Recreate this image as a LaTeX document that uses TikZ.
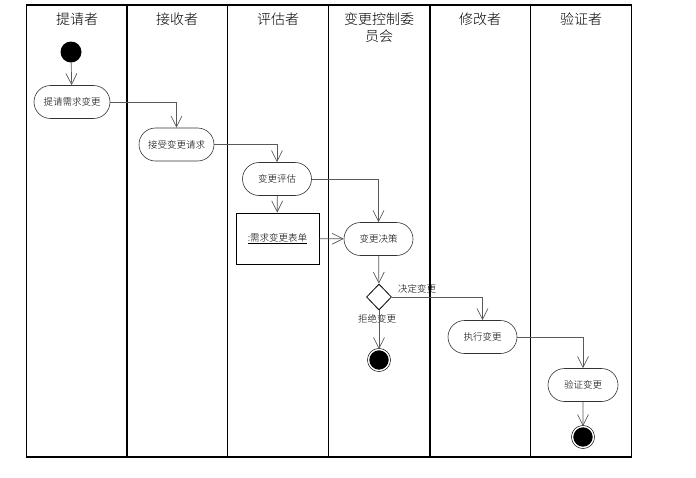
\documentclass[tikz,border=0pt]{standalone}
\usepackage{fontspec}
\newfontfamily\cjk{Noto Sans CJK SC}[UprightFont={* Light}]
\usetikzlibrary{shapes.geometric,shapes.misc,arrows.meta}
\begin{document}
\begin{tikzpicture}[x=1pt,y=-1pt,
  lane/.style={draw=black,line width=1.1pt},
  title/.style={font=\cjk\fontsize{14}{17}\selectfont,align=center,inner sep=0pt},
  act/.style={rounded rectangle,draw=black!80,line width=0.6pt,font=\cjk\fontsize{9.5}{11}\selectfont,minimum height=33pt,inner sep=0pt},
  obj/.style={rectangle,draw=black,line width=0.9pt,font=\cjk\fontsize{9.5}{11}\selectfont,minimum width=83pt,minimum height=51pt,inner sep=0pt},
  conn/.style={draw=black!65,line width=0.7pt,-{Straight Barb[length=11pt,width=11pt,line width=0.7pt]}},
  lbl/.style={font=\cjk\fontsize{9.5}{11}\selectfont,inner sep=0pt},
  startnode/.style={circle,fill=black,minimum size=21pt,inner sep=0pt},
  endnode/.style={circle,fill=black,draw=black,line width=0.6pt,double=white,double distance=1.4pt,minimum size=21pt,inner sep=0pt},
  decision/.style={diamond,draw=black,line width=0.8pt,minimum width=25pt,minimum height=26pt,inner sep=0pt}
]
\useasboundingbox (0,0) rectangle (696,477);
\fill[white] (0,0) rectangle (696,477);
% swimlanes
\draw[lane] (26.7,5) rectangle (631.7,457);
\foreach \xx in {127,227.5,328.3,430,530.7}{\draw[lane] (\xx,5) -- (\xx,457);}
\node[title] (t1) at (77,19) {提请者};
\node[title] (t2) at (177,19) {接收者};
\node[title] (t3) at (278,19) {评估者};
\node[title] (t4) at (379,28) {变更控制委\\员会};
\node[title] (t5) at (480,19) {修改者};
\node[title] (t6) at (581,19) {验证者};
% nodes
\node[startnode] (s) at (71,52) {};
\node[act,minimum width=76pt] (a1) at (72,102) {提请需求变更};
\node[act,minimum width=75pt] (a2) at (176.5,144.5) {接受变更请求};
\node[act,minimum width=69pt] (a3) at (277,179) {变更评估};
\node[obj] (o1) at (277.5,238.5) {\underline{:需求变更表单}};
\node[act,minimum width=69pt] (a4) at (378.5,239) {变更决策};
\node[decision] (d) at (379,297) {};
\node[endnode] (e1) at (379,360) {};
\node[act,minimum width=69pt] (a5) at (482.5,337) {执行变更};
\node[act,minimum width=70pt] (a6) at (583,385) {验证变更};
\node[endnode] (e2) at (583,437) {};
\node[lbl] (l1) at (417,289) {决定变更};
\node[lbl] (l2) at (377,319) {拒绝变更};
% connectors
\draw[conn] (s) -- (a1);
\draw[conn] (a1.east) -| (a2.north);
\draw[conn] (a2.east) -| (a3.north);
\draw[conn] (a3) -- (o1);
\draw[conn] (a3.east) -| (a4.north);
\draw[conn] (o1) -- (a4);
\draw[conn] (a4) -- (d);
\draw[conn] (d.east) -| (a5.north);
\draw[conn] (d) -- (e1);
\draw[conn] (a5.east) -| (a6.north);
\draw[conn] (a6) -- (e2);
\end{tikzpicture}
\end{document}
